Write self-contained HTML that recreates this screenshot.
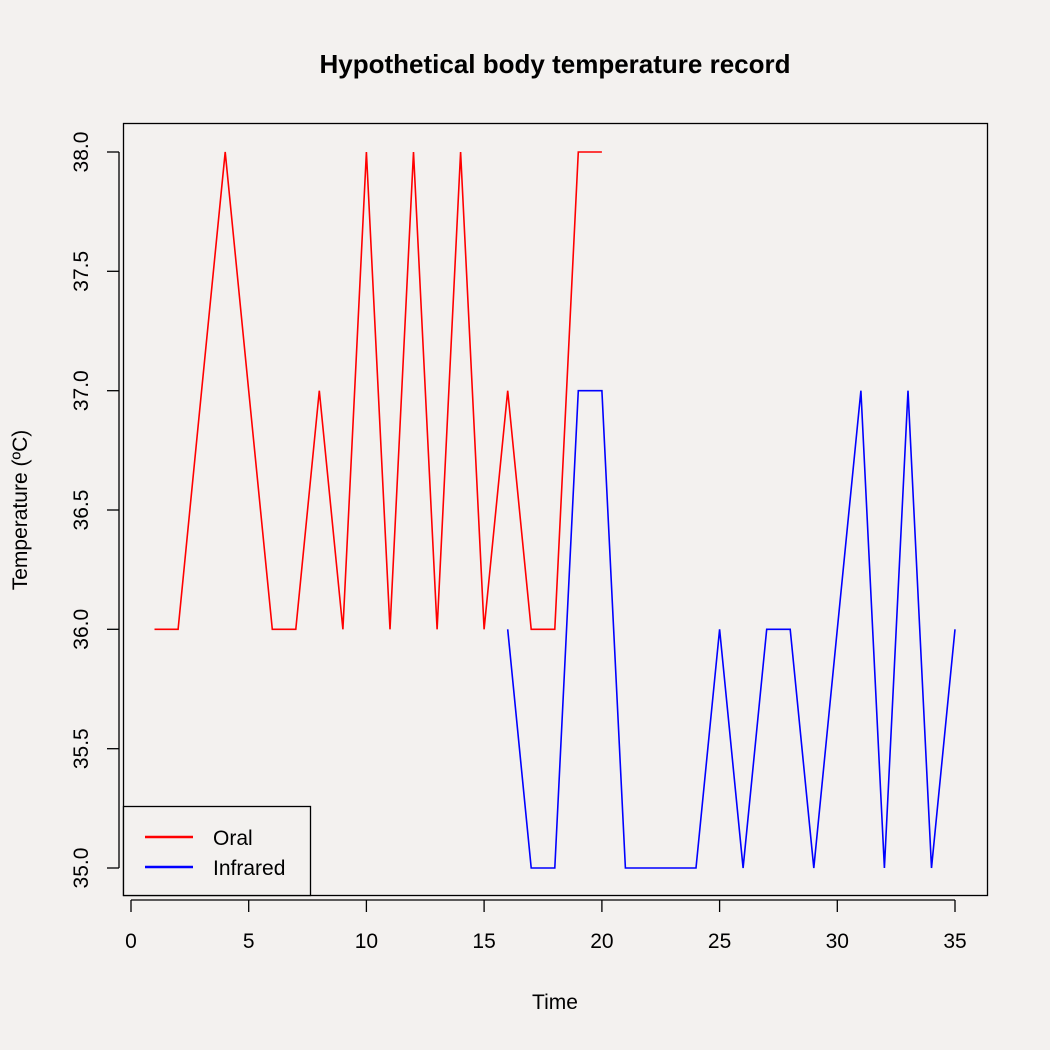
<!DOCTYPE html>
<html><head><meta charset="utf-8"><style>
html,body{margin:0;padding:0;background:#f3f1ef;}
svg{display:block;font-family:"Liberation Sans",Arial,sans-serif;}
</style></head><body>
<svg width="1050" height="1050" viewBox="0 0 1050 1050" xmlns="http://www.w3.org/2000/svg">
<rect width="1050" height="1050" fill="#f3f1ef"/>
<text x="555" y="73" font-size="26" font-weight="bold" text-anchor="middle">Hypothetical body temperature record</text>
<rect x="123.5" y="123.5" width="864" height="772" fill="none" stroke="#000" stroke-width="1.3"/>
<!-- x axis -->
<g stroke="#000" stroke-width="1.3">
<line x1="131" y1="900" x2="955" y2="900"/>
<line x1="131" y1="900" x2="131" y2="912"/>
<line x1="248.7" y1="900" x2="248.7" y2="912"/>
<line x1="366.4" y1="900" x2="366.4" y2="912"/>
<line x1="484.1" y1="900" x2="484.1" y2="912"/>
<line x1="601.9" y1="900" x2="601.9" y2="912"/>
<line x1="719.6" y1="900" x2="719.6" y2="912"/>
<line x1="837.3" y1="900" x2="837.3" y2="912"/>
<line x1="955" y1="900" x2="955" y2="912"/>
</g>
<g font-size="21" text-anchor="middle">
<text x="131" y="948">0</text><text x="248.7" y="948">5</text><text x="366.4" y="948">10</text>
<text x="484.1" y="948">15</text><text x="601.9" y="948">20</text><text x="719.6" y="948">25</text>
<text x="837.3" y="948">30</text><text x="955" y="948">35</text>
</g>
<text x="555" y="1009" font-size="21" text-anchor="middle">Time</text>
<!-- y axis -->
<g stroke="#000" stroke-width="1.3">
<line x1="119" y1="152" x2="119" y2="868"/>
<line x1="107" y1="152" x2="119" y2="152"/>
<line x1="107" y1="271.3" x2="119" y2="271.3"/>
<line x1="107" y1="390.7" x2="119" y2="390.7"/>
<line x1="107" y1="510" x2="119" y2="510"/>
<line x1="107" y1="629.3" x2="119" y2="629.3"/>
<line x1="107" y1="748.7" x2="119" y2="748.7"/>
<line x1="107" y1="868" x2="119" y2="868"/>
</g>
<g font-size="21" text-anchor="middle">
<text transform="translate(88,152) rotate(-90)">38.0</text>
<text transform="translate(88,271.3) rotate(-90)">37.5</text>
<text transform="translate(88,390.7) rotate(-90)">37.0</text>
<text transform="translate(88,510) rotate(-90)">36.5</text>
<text transform="translate(88,629.3) rotate(-90)">36.0</text>
<text transform="translate(88,748.7) rotate(-90)">35.5</text>
<text transform="translate(88,868) rotate(-90)">35.0</text>
</g>
<text transform="translate(27,510) rotate(-90)" font-size="21" text-anchor="middle">Temperature (ºC)</text>
<!-- series -->
<polyline fill="none" stroke="#ff0000" stroke-width="1.6" points="154.5,629.3 178.1,629.3 201.6,390.7 225.2,152 248.7,390.7 272.3,629.3 295.8,629.3 319.3,390.7 342.9,629.3 366.4,152 390,629.3 413.5,152 437.1,629.3 460.6,152 484.1,629.3 507.7,390.7 531.2,629.3 554.8,629.3 578.3,152 601.9,152"/>
<polyline fill="none" stroke="#0000ff" stroke-width="1.6" points="507.7,629.3 531.2,868 554.8,868 578.3,390.7 601.9,390.7 625.4,868 649,868 672.5,868 696,868 719.6,629.3 743.1,868 766.7,629.3 790.2,629.3 813.8,868 837.3,629.3 860.9,390.7 884.4,868 908,390.7 931.5,868 955,629.3"/>
<!-- legend -->
<rect x="123.5" y="806.5" width="187" height="89" fill="#f3f1ef" stroke="#000" stroke-width="1.3"/>
<line x1="145" y1="837" x2="193" y2="837" stroke="#ff0000" stroke-width="2.5"/>
<line x1="145" y1="867" x2="193" y2="867" stroke="#0000ff" stroke-width="2.5"/>
<text x="213" y="845" font-size="21">Oral</text>
<text x="213" y="875" font-size="21">Infrared</text>
</svg>
</body></html>
